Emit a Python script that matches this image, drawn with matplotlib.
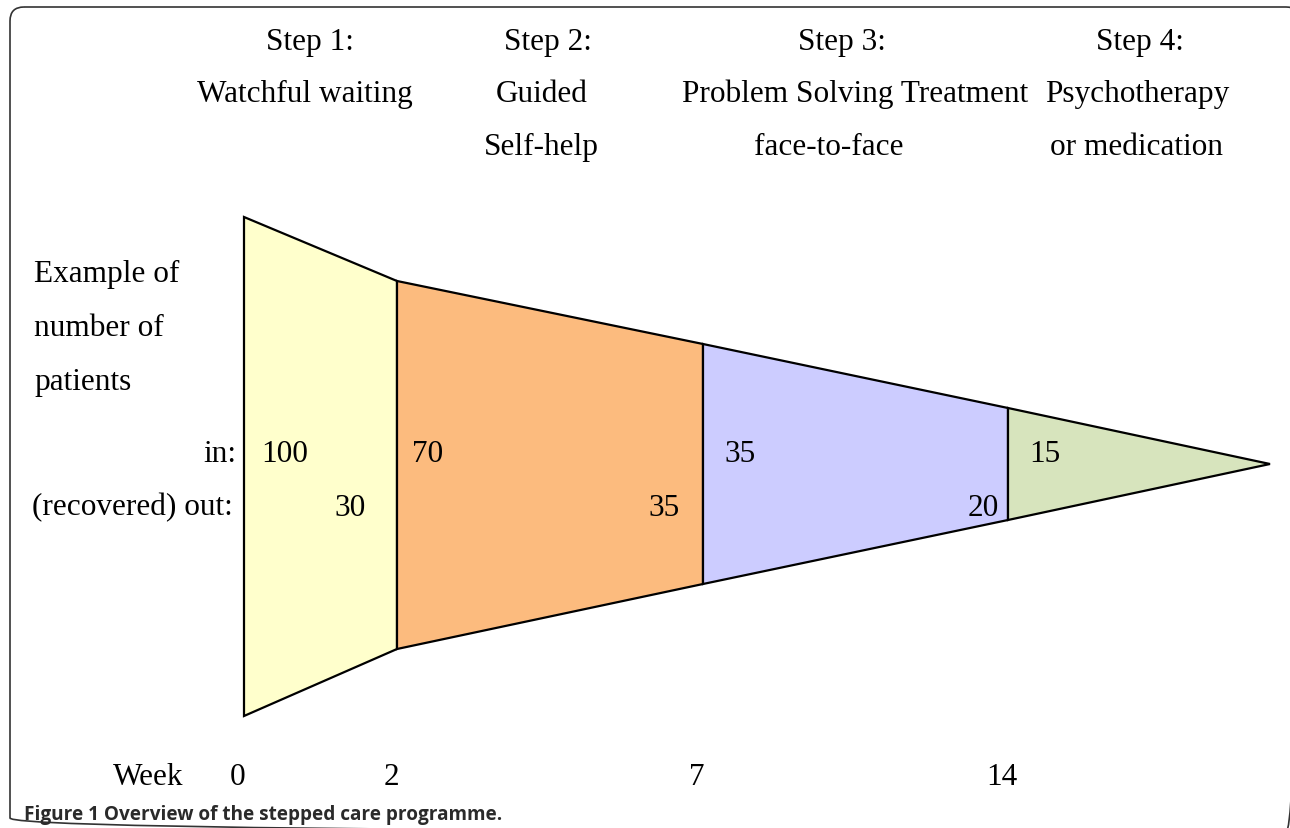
import matplotlib.pyplot as plt
from matplotlib.patches import Polygon, FancyBboxPatch

# Steps and example patient counts
step_titles = ["Step 1:", "Step 2:", "Step 3:", "Step 4:"]
step_names = [
    ["Watchful waiting"],
    ["Guided", "Self-help"],
    ["Problem Solving Treatment", "face-to-face"],
    ["Psychotherapy", "or medication"],
]
patients_in = [100, 70, 35, 15]
patients_out = [30, 35, 20]
week_labels = ["0", "2", "7", "14"]
colors = ["#ffffcc", "#fcbb7e", "#ccccff", "#d7e4bd"]

# Layout of the schematic (pixel units of the figure)
bounds_x = [244, 397, 703, 1008, 1270]
top_y = [218, 282, 345, 409, 465]
bot_y = [717, 650, 585, 521, 465]
title_x = [310, 548, 842, 1140]
name_x = [[305], [542, 541], [855, 829], [1137, 1137]]
in_x = [285, 428, 740, 1045]
out_x = [350, 664, 983]

fig = plt.figure(figsize=(12.9, 8.29), dpi=100)
ax = fig.add_axes([0, 0, 1, 1])
ax.set_xlim(0, 1290)
ax.set_ylim(829, 0)
ax.axis("off")

serif = "Liberation Serif"
fs = 22.5

# Rounded frame (right and bottom edges run off the canvas)
frame = FancyBboxPatch((10, 8), 1290, 825, boxstyle="round,pad=0,rounding_size=14",
                       fill=False, ec="#333333", lw=1.2)
ax.add_patch(frame)

# Funnel segments
for i in range(4):
    x0, x1 = bounds_x[i], bounds_x[i + 1]
    pts = [(x0, top_y[i]), (x1, top_y[i + 1]), (x1, bot_y[i + 1]), (x0, bot_y[i])]
    ax.add_patch(Polygon(pts, closed=True, fc=colors[i], ec="black", lw=1.6, joinstyle="miter"))

# Headings
for i in range(4):
    ax.text(title_x[i], 42, step_titles[i], ha="center", va="center", fontsize=fs, family=serif)
    for j, line in enumerate(step_names[i]):
        ax.text(name_x[i][j], 94 + 53 * j, line, ha="center", va="center", fontsize=fs, family=serif)

# Left labels
for j, line in enumerate(["Example of", "number of", "patients"]):
    ax.text(34, 274 + 54 * j, line, ha="left", va="center", fontsize=fs, family=serif)
ax.text(236, 455, "in:", ha="right", va="center", fontsize=fs, family=serif)
ax.text(233, 508, "(recovered) out:", ha="right", va="center", fontsize=fs, family=serif)

# Counts
for x, v in zip(in_x, patients_in):
    ax.text(x, 455, str(v), ha="center", va="center", fontsize=fs, family=serif)
for x, v in zip(out_x, patients_out):
    ax.text(x, 508, str(v), ha="center", va="center", fontsize=fs, family=serif)

# Weeks
ax.text(148, 778, "Week", ha="center", va="center", fontsize=fs, family=serif)
for x, w in zip(bounds_x[:4], week_labels):
    ax.text(x - 6, 778, w, ha="center", va="center", fontsize=fs, family=serif)

# Caption
ax.text(24, 820, "Figure 1 Overview of the stepped care programme.", ha="left", va="baseline",
        fontsize=13.7, family="Open Sans", fontweight="bold", color="#2a2a2a")

fig.savefig("out.png", dpi=100)
